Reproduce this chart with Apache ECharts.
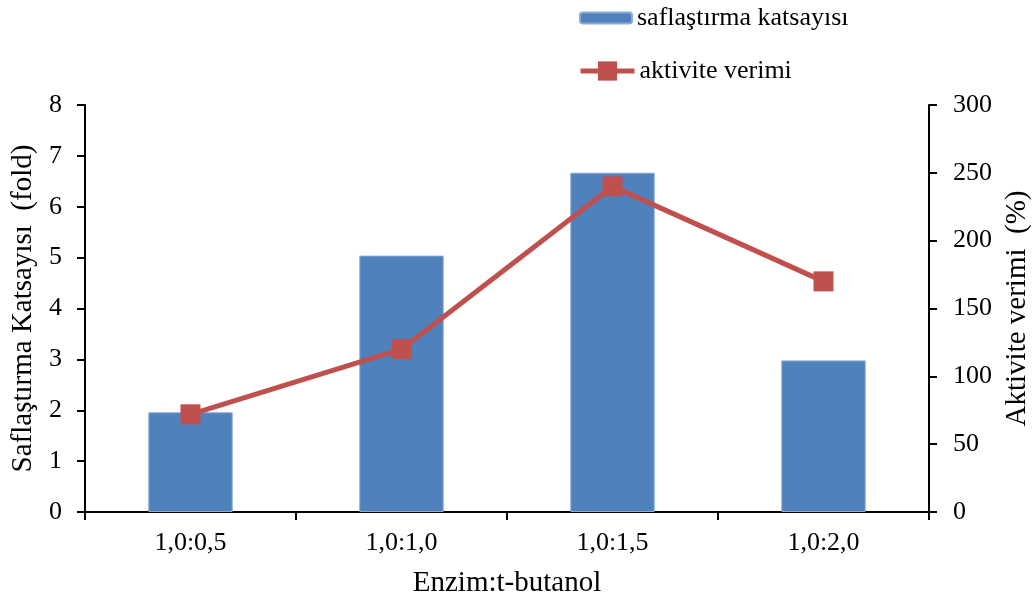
<!DOCTYPE html>
<html>
<head>
<meta charset="utf-8">
<script src="https://cdn.jsdelivr.net/npm/echarts@6/dist/echarts.min.js"></script>
<style>
  html, body { margin: 0; padding: 0; background: #fff; }
  #chart { width: 1036px; height: 601px; }
</style>
</head>
<body>
<div id="chart"></div>
<script>
// Enzyme : t-butanol ratios
const categories = ['1,0:0,5', '1,0:1,0', '1,0:1,5', '1,0:2,0'];
// Purification fold (left axis)
const saflastirma = [1.96, 5.04, 6.67, 2.98];
// Activity yield, % (right axis)
const aktivite = [72, 120, 240, 170];

const FONT = '"Liberation Serif", "Times New Roman", serif';
const BLUE = '#4F81BD';
const RED = '#C0504D';

const chart = echarts.init(document.getElementById('chart'), null, { renderer: 'canvas' });

const axisLine = { show: true, lineStyle: { color: '#000', width: 2 } };
const axisTick = { show: true, inside: false, length: 8, lineStyle: { color: '#000', width: 2 } };
const labelStyle = { color: '#000', fontFamily: FONT, fontSize: 26 };
const nameStyle = { color: '#000', fontFamily: FONT, fontSize: 29 };

chart.setOption({
  animation: false,
  backgroundColor: '#fff',
  grid: {
    left: 85, right: 107, top: 105, bottom: 89,
    containLabel: false,
    outerBoundsMode: 'none'
  },
  legend: [
    {
      data: ['saflaştırma katsayısı'],
      left: 579, top: 5, padding: 0,
      itemWidth: 52, itemHeight: 11,
      textStyle: { color: '#000', fontFamily: FONT, fontSize: 26 }
    },
    {
      data: ['aktivite verimi'],
      left: 578, top: 58, padding: 0,
      itemWidth: 54, itemHeight: 24,
      lineStyle: { width: 5 },
      textStyle: { color: '#000', fontFamily: FONT, fontSize: 26 }
    }
  ],
  xAxis: {
    type: 'category',
    data: categories,
    name: 'Enzim:t-butanol',
    nameLocation: 'middle',
    nameGap: 57,
    nameTextStyle: nameStyle,
    axisLine: axisLine,
    axisTick: axisTick,
    axisLabel: Object.assign({ margin: 18 }, labelStyle),
    splitLine: { show: false }
  },
  yAxis: [
    {
      type: 'value',
      min: 0, max: 8, interval: 1,
      name: 'Saflaştırma Katsayısı  (fold)',
      nameLocation: 'middle',
      nameRotate: 90,
      nameGap: 42,
      nameTextStyle: nameStyle,
      axisLine: axisLine,
      axisTick: axisTick,
      axisLabel: Object.assign({ margin: 23 }, labelStyle),
      splitLine: { show: false }
    },
    {
      type: 'value',
      position: 'right',
      min: 0, max: 300, interval: 50,
      name: 'Aktivite verimi  (%)',
      nameLocation: 'middle',
      nameRotate: 90,
      nameGap: 73,
      nameTextStyle: nameStyle,
      axisLine: axisLine,
      axisTick: axisTick,
      axisLabel: Object.assign({ margin: 24 }, labelStyle),
      splitLine: { show: false }
    }
  ],
  series: [
    {
      name: 'saflaştırma katsayısı',
      type: 'bar',
      yAxisIndex: 0,
      data: saflastirma,
      barWidth: '40%',
      itemStyle: { color: BLUE, borderColor: '#8EAAD6', borderWidth: 1 }
    },
    {
      name: 'aktivite verimi',
      type: 'line',
      yAxisIndex: 1,
      data: aktivite,
      symbol: 'rect',
      symbolSize: 20,
      lineStyle: { color: RED, width: 5 },
      itemStyle: { color: RED },
      z: 3
    }
  ]
});
</script>
</body>
</html>
